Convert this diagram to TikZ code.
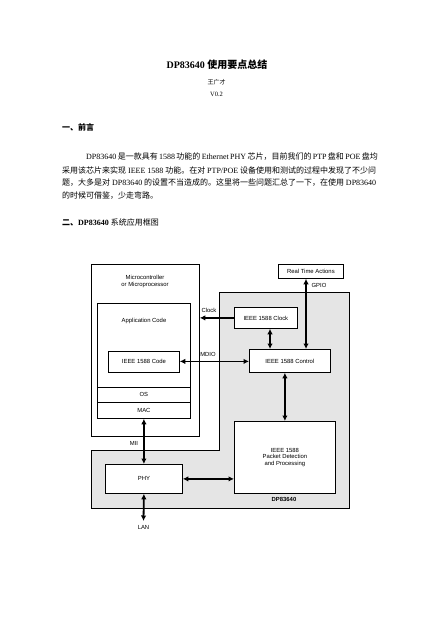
\documentclass[tikz,border=0pt]{standalone}
\usepackage{fontspec}
\setmainfont{Liberation Serif}
\setsansfont{Liberation Sans}
\newfontfamily\cjk{Noto Sans CJK SC}
\usetikzlibrary{arrows.meta}
\XeTeXlinebreaklocale "zh"
\XeTeXlinebreakskip=0pt plus 3pt
\newcommand\zh[1]{{\cjk #1}}
\begin{document}
\begin{tikzpicture}[x=1pt,y=-1pt,
  sml/.style={font=\sffamily\fontsize{5.9}{7}\selectfont, inner sep=0pt},
  box/.style={draw, line width=0.8pt, fill=white, sml, align=center},
  arr/.style={line width=1.8pt, -{Latex[length=5.5pt,width=5.5pt]}},
  darr/.style={line width=1.8pt, {Latex[length=5.5pt,width=5.5pt]}-{Latex[length=5.5pt,width=5.5pt]}},
  body/.style={anchor=west, inner sep=0pt, font=\fontsize{8}{10}\selectfont},
  head/.style={anchor=west, inner sep=0pt, font=\fontsize{8}{10}\selectfont\bfseries}
]
\useasboundingbox[fill=white] (0,0) rectangle (440,620);

% title block
\node[inner sep=0pt, font=\fontsize{10}{12}\selectfont\bfseries] (title) at (217,65) {DP83640 \zh{使用要点总结}};
\node[inner sep=0pt, font=\fontsize{6}{7}\selectfont] (author) at (216.5,82) {\zh{王广才}};
\node[inner sep=0pt, font=\fontsize{6.5}{7}\selectfont] (ver) at (216.5,94) {V0.2};

\node[head] (h1) at (62,127) {\zh{一、前言}};
\node[body] (l1) at (86,157) {\hbox to 290pt{DP83640 \zh{是一款具有} 1588 \zh{功能的} Ethernet PHY \zh{芯片，目前我们的} PTP \zh{盘和} POE \zh{盘均}}};
\node[body] (l2) at (62,170) {\hbox to 314pt{\zh{采用该芯片来实现} IEEE 1588 \zh{功能。在对} PTP/POE \zh{设备使用和测试的过程中发现了不少问}}};
\node[body] (l3) at (62,183) {\hbox to 314pt{\zh{题，大多是对} DP83640 \zh{的设置不当造成的。这里将一些问题汇总了一下，在使用} DP83640}};
\node[body] (l4) at (62,196) {\zh{的时候可借鉴，少走弯路。}};

\node[head] (h2) at (62,222) {\zh{二、}DP83640 \zh{\mdseries 系统应用框图}};

% DP83640 gray region
\draw[fill=black!10, line width=0.8pt] (219,292) -- (349,292) -- (349,508) -- (91,508) -- (91,450) -- (219,450) -- cycle;
\node[sml, font=\sffamily\bfseries\fontsize{5.9}{7}\selectfont] (dplbl) at (284,499) {DP83640};

% microcontroller
\node[box, anchor=north west, minimum width=108pt, minimum height=172pt] (mcu) at (91,264) {};
\node[sml, align=center] (mculbl) at (145,281.5) {Microcontroller\\[-0.5pt]or Microprocessor};
\node[box, anchor=north west, minimum width=93pt, minimum height=84pt] (app) at (97,303) {};
\node[sml] (applbl) at (144,321) {Application Code};
\node[box, anchor=north west, minimum width=93pt, minimum height=15pt] (os) at (97,387) {OS};
\node[box, anchor=north west, minimum width=93pt, minimum height=16pt] (mac) at (97,402) {MAC};
\node[box, anchor=north west, minimum width=71pt, minimum height=21pt] (code) at (108,350.5) {IEEE 1588 Code};

% DP83640 blocks
\node[box, anchor=north west, minimum width=65pt, minimum height=14pt] (rta) at (278,264) {Real Time Actions};
\node[box, anchor=north west, minimum width=63pt, minimum height=21pt] (clk) at (234,307) {IEEE 1588 Clock};
\node[box, anchor=north west, minimum width=81pt, minimum height=23pt] (ctrl) at (249,349) {IEEE 1588 Control};
\node[box, anchor=north west, minimum width=101pt, minimum height=72pt] (pkt) at (234,421) {IEEE 1588\\[-0.3pt]Packet Detection\\[-0.3pt]and Processing};
\node[box, anchor=north west, minimum width=77pt, minimum height=29pt] (phy) at (105,464) {PHY};

% connectors
\coordinate (gpiox) at (306,0);
\coordinate (cx) at (270,0);
\coordinate (lanend) at (143.5,521);
\draw[darr] (rta.south -| gpiox) -- (ctrl.north -| gpiox);
\node[sml] (gpiolbl) at (319,285) {GPIO};
\draw[arr] (clk.west) -- (clk.west -| mcu.east);
\node[sml] (clklbl) at (209,310) {Clock};
\draw[darr] (clk.south -| cx) -- (ctrl.north -| cx);
\draw[darr] (code.east) -- (code.east -| ctrl.west);
\node[sml] (mdiolbl) at (208,354) {MDIO};
\draw[darr] (ctrl.south -| pkt) -- (pkt.north);
\draw[darr] (mac.south -| phy) -- (phy.north);
\node[sml] (miilbl) at (134,443) {MII};
\draw[darr] (phy.east) -- (phy.east -| pkt.west);
\draw[darr] (phy.south) -- (lanend);
\node[sml] (lanlbl) at (143.5,527) {LAN};
\end{tikzpicture}
\end{document}
